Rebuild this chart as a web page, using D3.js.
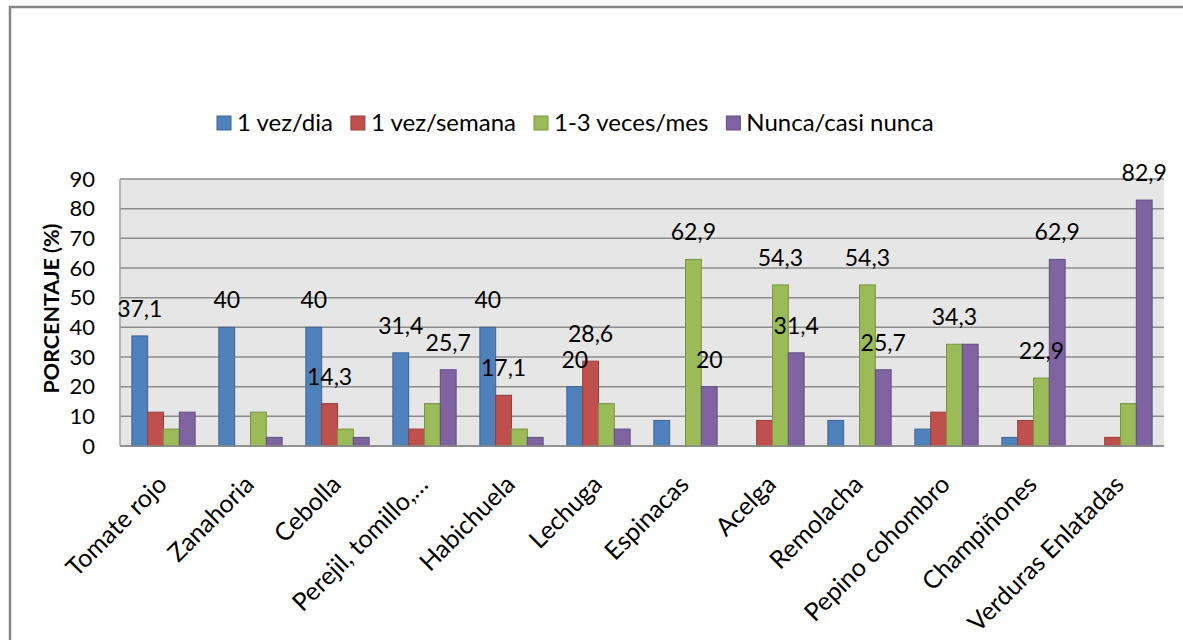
<!DOCTYPE html>
<html>
<head>
<meta charset="utf-8">
<script src="https://cdn.jsdelivr.net/npm/d3@7"></script>
<style>
  html, body { margin: 0; background: #fff; overflow: hidden; }
  svg { display: block; }
  svg text { font-family: Lato, "Open Sans", sans-serif; fill: #000; }
</style>
</head>
<body>
<div id="chart"></div>
<script>
// categories and series
const categories = ["Tomate rojo", "Zanahoria", "Cebolla", "Perejil, tomillo,…", "Habichuela", "Lechuga",
  "Espinacas", "Acelga", "Remolacha", "Pepino cohombro", "Champiñones", "Verduras Enlatadas"];
const seriesNames = ["1 vez/dia", "1 vez/semana", "1-3 veces/mes", "Nunca/casi nunca"];
const diaValues = [37.1, 40, 40, 31.4, 40, 20, 8.6, 0, 8.6, 5.7, 2.9, 0];
const semanaValues = [11.4, 0, 14.3, 5.7, 17.1, 28.6, 0, 8.6, 0, 11.4, 8.6, 2.9];
const mesValues = [5.7, 11.4, 5.7, 14.3, 5.7, 14.3, 62.9, 54.3, 54.3, 34.3, 22.9, 14.3];
const nuncaValues = [11.4, 2.9, 2.9, 25.7, 2.9, 5.7, 20, 31.4, 25.7, 34.3, 62.9, 82.9];
const yTicks = [0, 10, 20, 30, 40, 50, 60, 70, 80, 90];
// [category index, series index] of the bars that carry a value label
const labelledBars = [[0, 0], [1, 0], [2, 0], [2, 1], [3, 0], [3, 3], [4, 0], [4, 1], [5, 0], [5, 1],
  [6, 2], [6, 3], [7, 2], [7, 3], [8, 2], [8, 3], [9, 2], [10, 2], [10, 3], [11, 3]];

const fills = ["#4f81bd", "#c0504d", "#9bbb59", "#8064a2"];
const strokes = ["#3c6595", "#983e3c", "#789443", "#634d80"];

const width = 1183, height = 640;
const margin = { top: 179, right: 19, bottom: 194, left: 120 };

const allValues = [diaValues, semanaValues, mesValues, nuncaValues];
const fmt = v => String(v).replace(".", ",");

const svg = d3.select("#chart").append("svg")
  .attr("width", width)
  .attr("height", height);

// outer chart frame: only the top and left edges fall inside the picture
svg.append("path")
  .attr("d", `M10,${height}V7H${width}`)
  .attr("fill", "none")
  .attr("stroke", "#868686")
  .attr("stroke-width", 2.5);

const x0 = d3.scaleBand()
  .domain(categories)
  .range([margin.left, width - margin.right]);

const x1 = d3.scaleBand()
  .domain(d3.range(seriesNames.length))
  .range([0, x0.bandwidth()])
  .paddingInner(0)
  .paddingOuter(0.75);

const y = d3.scaleLinear()
  .domain([0, 90])
  .range([height - margin.bottom, margin.top]);

// plot area
svg.append("rect")
  .attr("x", margin.left).attr("y", margin.top)
  .attr("width", x0.range()[1] - margin.left)
  .attr("height", y(0) - margin.top)
  .attr("fill", "#e6e6e6");

// gridlines
svg.append("g")
  .selectAll("line")
  .data(yTicks)
  .join("line")
  .attr("x1", margin.left).attr("x2", x0.range()[1])
  .attr("y1", d => y(d)).attr("y2", d => y(d))
  .attr("stroke", "#8c8c8c")
  .attr("stroke-width", 1.5);

// y axis line
svg.append("line")
  .attr("x1", margin.left).attr("x2", margin.left)
  .attr("y1", y(90)).attr("y2", y(0))
  .attr("stroke", "#a0a0a0")
  .attr("stroke-width", 1.5);

// y tick labels
const yAxis = d3.axisLeft(y).tickValues(yTicks).tickSize(0).tickPadding(25);
const yG = svg.append("g")
  .attr("transform", `translate(${margin.left},0)`)
  .call(yAxis);
yG.select(".domain").remove();
yG.selectAll("text")
  .attr("font-size", 22)
  .style("font-family", "Lato, sans-serif");

// y title
svg.append("text")
  .attr("transform", `translate(59,${(y(0) + y(90)) / 2 - 4}) rotate(-90)`)
  .attr("text-anchor", "middle")
  .attr("font-size", 21.5)
  .attr("font-weight", "bold")
  .text("PORCENTAJE (%)");

// bars
const groups = svg.append("g")
  .selectAll("g")
  .data(categories)
  .join("g")
  .attr("transform", d => `translate(${x0(d)},0)`);

groups.selectAll("rect")
  .data((d, i) => allValues.map((vals, s) => ({ s, v: vals[i] })).filter(b => b.v > 0))
  .join("rect")
  .attr("x", d => x1(d.s))
  .attr("y", d => y(d.v))
  .attr("width", x1.bandwidth())
  .attr("height", d => y(0) - y(d.v))
  .attr("fill", d => fills[d.s])
  .attr("stroke", d => strokes[d.s])
  .attr("stroke-width", 1);

// x axis line
svg.append("line")
  .attr("x1", margin.left).attr("x2", x0.range()[1])
  .attr("y1", y(0)).attr("y2", y(0))
  .attr("stroke", "#8c8c8c")
  .attr("stroke-width", 1.5);

// value labels
svg.append("g")
  .selectAll("text")
  .data(labelledBars)
  .join("text")
  .attr("x", ([c, s]) => x0(categories[c]) + x1(s) + x1.bandwidth() / 2)
  .attr("y", ([c, s]) => y(allValues[s][c]) - 19)
  .attr("text-anchor", "middle")
  .attr("font-size", 23)
  .text(([c, s]) => fmt(allValues[s][c]));

// category labels
svg.append("g")
  .selectAll("text")
  .data(categories)
  .join("text")
  .attr("transform", d => `translate(${x0(d) + x0.bandwidth() / 2 + 5},${y(0) + 40}) rotate(-45)`)
  .attr("text-anchor", "end")
  .attr("font-size", 25)
  .text(d => d);

// legend
const legend = svg.append("g").attr("transform", "translate(217,0)");
let lx = 0;
seriesNames.forEach((name, s) => {
  legend.append("rect")
    .attr("x", lx).attr("y", 116)
    .attr("width", 14).attr("height", 14)
    .attr("fill", fills[s])
    .attr("stroke", strokes[s])
    .attr("stroke-width", 1);
  const t = legend.append("text")
    .attr("x", lx + 20).attr("y", 131)
    .attr("font-size", 24)
    .text(name);
  lx += 20 + t.node().getComputedTextLength() + 18;
});
</script>
</body>
</html>
